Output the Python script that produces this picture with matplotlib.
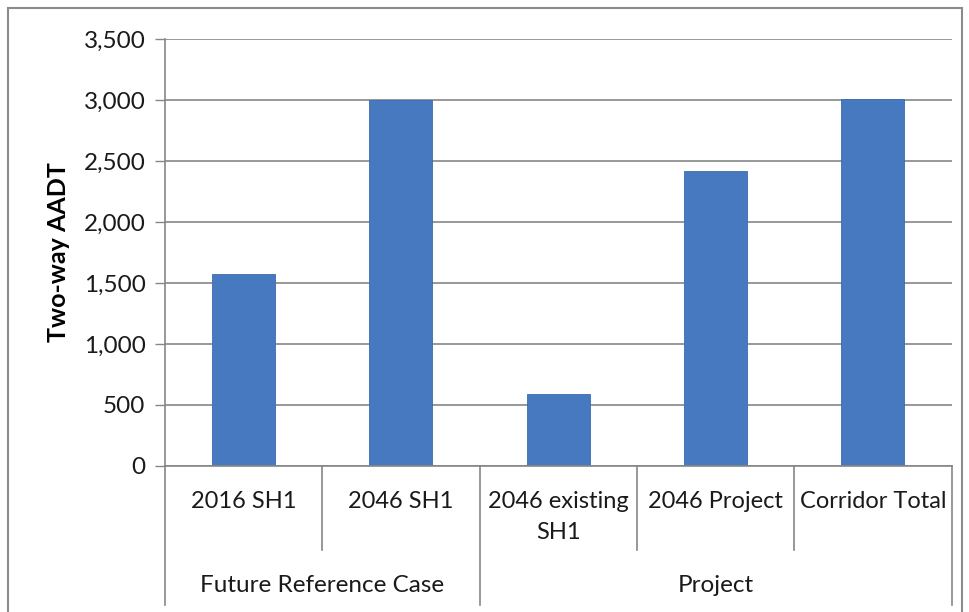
import matplotlib.pyplot as plt
from matplotlib.lines import Line2D
from matplotlib.patches import Rectangle
from matplotlib.ticker import FuncFormatter

plt.rcParams['font.family'] = ['Lato', 'DejaVu Sans']

# data
categories = ["2016 SH1", "2046 SH1", "2046 existing\nSH1", "2046 Project", "Corridor Total"]
aadt = [1570, 3000, 590, 2420, 3010]
groups = ["Future Reference Case", "Project"]
group_sizes = [2, 3]

fig = plt.figure(figsize=(9.7, 6.12), dpi=100)
ax = fig.add_axes([0.170, 0.2386, 0.811, 0.6977])

x = list(range(len(categories)))
ax.bar(x, aadt, width=0.4, color="#4779c0", edgecolor="#3d6cad", linewidth=0.6, zorder=3)

ax.set_xlim(-0.5, len(categories) - 0.5)
ax.set_ylim(0, 3500)
ax.set_yticks(range(0, 3501, 500))
ax.yaxis.set_major_formatter(FuncFormatter(lambda v, p: f"{int(v):,}"))
ax.grid(axis="y", color="#868686", linewidth=1.2, zorder=0)
ax.set_xticks([])
ax.tick_params(axis="y", labelsize=17.5, length=7, width=1, color="#868686", pad=7, labelcolor="#1a1a1a")

for s in ["top", "right", "bottom"]:
    ax.spines[s].set_visible(False)
ax.spines["left"].set_color("#868686")
ax.spines["left"].set_linewidth(1.2)

ax.set_ylabel("Two-way AADT", fontsize=18, fontweight="bold", labelpad=10)

# multi level category axis
trans = ax.get_xaxis_transform()
ax.plot([-0.5, len(categories) - 0.5], [0, 0], color="#868686", lw=1.2, transform=trans, clip_on=False, zorder=4)
for i, lab in enumerate(categories):
    ax.text(i, -0.058, lab, transform=trans, ha="center", va="top", fontsize=17,
            color="#1a1a1a", linespacing=1.6)

edges = [-0.5]
for n in group_sizes:
    edges.append(edges[-1] + n)
for e in [k - 0.5 for k in range(len(categories) + 1)]:
    low = -0.326 if e in edges else -0.197
    ax.add_line(Line2D([e, e], [0, low], color="#868686", lw=1.2, transform=trans, clip_on=False))

for g, n, start in zip(groups, group_sizes, edges):
    ax.text(start + n / 2, -0.279, g, transform=trans, ha="center", va="center",
            fontsize=17.5, color="#1a1a1a")

# chart border
fig.patches.append(Rectangle((0.008, -0.02), 0.984, 1.007, transform=fig.transFigure,
                             fill=False, edgecolor="#8c8c8c", linewidth=1.5))

fig.savefig("out.png", dpi=100)
